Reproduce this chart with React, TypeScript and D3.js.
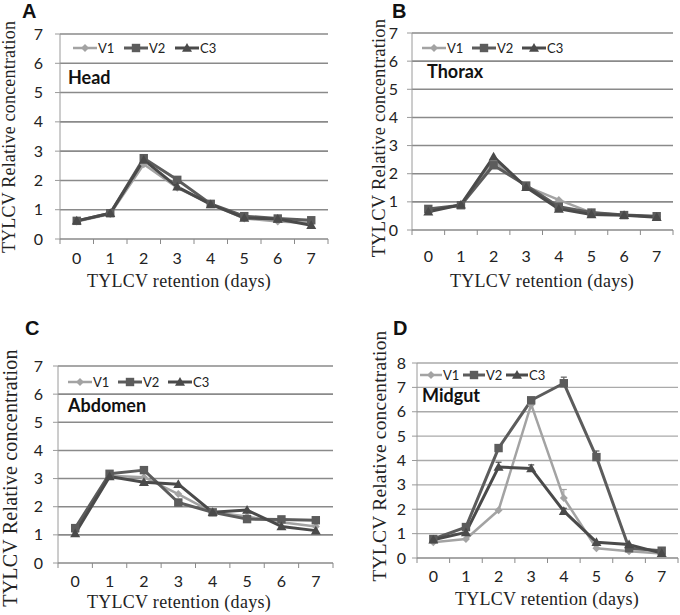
import React from "react";
import * as d3 from "d3";

const days = ["0", "1", "2", "3", "4", "5", "6", "7"];
const seriesNames = ["V1", "V2", "C3"];

const headV1 = [0.6, 0.85, 2.55, 1.75, 1.2, 0.7, 0.6, 0.55];
const headV2 = [0.62, 0.88, 2.76, 2.02, 1.2, 0.78, 0.7, 0.64];
const headC3 = [0.62, 0.88, 2.7, 1.78, 1.18, 0.72, 0.68, 0.47];

const thoraxV1 = [0.7, 0.88, 2.45, 1.55, 1.07, 0.62, 0.52, 0.48];
const thoraxV2 = [0.75, 0.88, 2.3, 1.58, 0.83, 0.62, 0.53, 0.49];
const thoraxC3 = [0.65, 0.9, 2.6, 1.52, 0.75, 0.55, 0.52, 0.45];

const abdomenV1 = [1.1, 3.1, 3.05, 2.45, 1.8, 1.65, 1.45, 1.3];
const abdomenV2 = [1.24, 3.17, 3.3, 2.15, 1.8, 1.56, 1.55, 1.52];
const abdomenC3 = [1.05, 3.07, 2.87, 2.8, 1.8, 1.88, 1.3, 1.15];

const midgutV1 = [0.65, 0.78, 1.96, 6.3, 2.46, 0.4, 0.28, 0.18];
const midgutV2 = [0.78, 1.27, 4.51, 6.47, 7.17, 4.14, 0.4, 0.3];
const midgutC3 = [0.75, 1.05, 3.73, 3.67, 1.92, 0.65, 0.55, 0.2];
const midgutErrV1 = [0, 0, 0, 0, 0.35, 0, 0, 0];
const midgutErrV2 = [0, 0, 0.1, 0.05, 0.25, 0.25, 0, 0];
const midgutErrC3 = [0, 0, 0.2, 0.15, 0.12, 0, 0, 0];

const panelLetters = ["A", "B", "C", "D"];
const panelTitles = ["Head", "Thorax", "Abdomen", "Midgut"];
const yMaxes = [7, 7, 7, 8];
const xTitle = "TYLCV retention (days)";
const yTitle = "TYLCV Relative concentration";

const colors: Record<string, string> = { V1: "#a3a3a3", V2: "#5c5c5c", C3: "#4a4a4a" };

type Layout = {
  left: number; right: number; top: number; bottom: number;
  letterX: number; letterY: number;
  titleX: number; titleY: number;
  legX: number; legY: number; legStep: number; legLine: number;
  xLabY: number; xTitleX: number; xTitleY: number;
  yTitleX: number; yTitleY: number; yTitleSize: number;
  yLabGap: number;
  grid: string; gridW: number;
};

const layouts: Layout[] = [
  { left: 60, right: 328, top: 34, bottom: 239, letterX: 22, letterY: 18, titleX: 68, titleY: 84,
    legX: 73, legY: 48, legStep: 51, legLine: 24, xLabY: 264, xTitleX: 179, xTitleY: 287,
    yTitleX: 15, yTitleY: 137, yTitleSize: 18, yLabGap: 17, grid: "#8a8a8a", gridW: 1.6 },
  { left: 412, right: 673, top: 33, bottom: 230, letterX: 392, letterY: 18, titleX: 427, titleY: 78,
    legX: 422, legY: 48, legStep: 50, legLine: 24, xLabY: 262, xTitleX: 542, xTitleY: 287,
    yTitleX: 385, yTitleY: 138, yTitleSize: 18.5, yLabGap: 14, grid: "#8a8a8a", gridW: 1.6 },
  { left: 58, right: 333, top: 366, bottom: 563, letterX: 25, letterY: 335, titleX: 68, titleY: 412,
    legX: 68, legY: 382, legStep: 50, legLine: 24, xLabY: 587, xTitleX: 179, xTitleY: 608,
    yTitleX: 17, yTitleY: 478, yTitleSize: 20, yLabGap: 15, grid: "#8a8a8a", gridW: 1.6 },
  { left: 417, right: 678, top: 363, bottom: 558, letterX: 393, letterY: 335, titleX: 422, titleY: 402,
    legX: 420, legY: 375, legStep: 43, legLine: 22, xLabY: 582, xTitleX: 547, xTitleY: 605,
    yTitleX: 386, yTitleY: 456, yTitleSize: 19.5, yLabGap: 11, grid: "#aaaaaa", gridW: 1.3 },
];

const panelData = [
  [headV1, headV2, headC3],
  [thoraxV1, thoraxV2, thoraxC3],
  [abdomenV1, abdomenV2, abdomenC3],
  [midgutV1, midgutV2, midgutC3],
];
const panelErrs: (number[][] | null)[] = [null, null, null, [midgutErrV1, midgutErrV2, midgutErrC3]];

function Marker({ name, x, y }: { name: string; x: number; y: number }) {
  const c = colors[name];
  if (name === "V1") {
    const s = 4;
    return <path d={`M${x},${y - s}L${x + s},${y}L${x},${y + s}L${x - s},${y}Z`} fill={c} />;
  }
  if (name === "V2") {
    const s = 4.2;
    return <rect x={x - s} y={y - s} width={2 * s} height={2 * s} fill={c} />;
  }
  const s = 5;
  return <path d={`M${x},${y - s}L${x + s},${y + s * 0.75}L${x - s},${y + s * 0.75}Z`} fill={c} />;
}

function Panel({ idx }: { idx: number }) {
  const L = layouts[idx];
  const x = d3.scaleBand<string>().domain(days).range([L.left, L.right]).padding(0);
  const y = d3.scaleLinear().domain([0, yMaxes[idx]]).range([L.bottom, L.top]);
  const ticks = d3.range(0, yMaxes[idx] + 1);
  const line = d3.line<number>().x((_, i) => (x(days[i]) as number) + x.bandwidth() / 2).y((d) => y(d));
  const data = panelData[idx];
  const errs = panelErrs[idx];
  const cx = (i: number) => (x(days[i]) as number) + x.bandwidth() / 2;
  const boundaries = d3.range(0, days.length + 1).map((i) => L.left + i * x.bandwidth());
  return (
    <g>
      {ticks.filter((t) => t > 0).map((t) => (
        <line key={"g" + t} x1={L.left} x2={L.right} y1={y(t)} y2={y(t)} stroke={L.grid} strokeWidth={L.gridW} />
      ))}
      <line x1={L.left} x2={L.left} y1={L.top} y2={L.bottom} stroke="#9a9a9a" strokeWidth={1} />
      {ticks.map((t) => (
        <g key={"yt" + t}>
          <line x1={L.left - 5} x2={L.left} y1={y(t)} y2={y(t)} stroke="#9a9a9a" />
          <text x={L.left - L.yLabGap} y={y(t) + 5.5} textAnchor="end" fontFamily="Lato" fontSize={16} fill="#222">{t}</text>
        </g>
      ))}
      <line x1={L.left} x2={L.right} y1={L.bottom} y2={L.bottom} stroke="#8a8a8a" strokeWidth={1.3} />
      {boundaries.map((b, i) => (
        <line key={"xt" + i} x1={b} x2={b} y1={L.bottom} y2={L.bottom + 5} stroke="#8a8a8a" />
      ))}
      {days.map((d, i) => (
        <text key={"xl" + d} x={cx(i)} y={L.xLabY} textAnchor="middle" fontFamily="Lato" fontSize={16} fill="#222">{d}</text>
      ))}
      {data.map((vals, si) => (
        <path key={"l" + si} d={line(vals) || ""} fill="none" stroke={colors[seriesNames[si]]} strokeWidth={si === 0 ? 2.5 : 3} strokeLinejoin="round" />
      ))}
      {errs && errs.map((ev, si) =>
        ev.map((e, i) =>
          e > 0 ? (
            <g key={"e" + si + "_" + i} stroke={colors[seriesNames[si]]} strokeWidth={1.2}>
              <line x1={cx(i)} x2={cx(i)} y1={y(data[si][i])} y2={y(data[si][i] + e)} />
              <line x1={cx(i) - 3} x2={cx(i) + 3} y1={y(data[si][i] + e)} y2={y(data[si][i] + e)} />
            </g>
          ) : null
        )
      )}
      {data.map((vals, si) =>
        vals.map((v, i) => <Marker key={"m" + si + "_" + i} name={seriesNames[si]} x={cx(i)} y={y(v)} />)
      )}
      {seriesNames.map((n, si) => {
        const lx = L.legX + si * L.legStep;
        return (
          <g key={"lg" + n}>
            <line x1={lx} x2={lx + L.legLine} y1={L.legY} y2={L.legY} stroke={colors[n]} strokeWidth={si === 0 ? 2.5 : 3} />
            <Marker name={n} x={lx + L.legLine / 2} y={L.legY} />
            <text x={lx + L.legLine + 1} y={L.legY + 4.5} fontFamily="Lato" fontSize={13} fill="#222">{n}</text>
          </g>
        );
      })}
      <text x={L.titleX} y={L.titleY} fontFamily="Lato" fontWeight="bold" fontSize={18} fill="#111">{panelTitles[idx]}</text>
      <text x={L.letterX} y={L.letterY} fontFamily="Liberation Sans" fontWeight="bold" fontSize={20} fill="#111">{panelLetters[idx]}</text>
      <text x={L.xTitleX} y={L.xTitleY} textAnchor="middle" fontFamily="Liberation Serif" fontSize={18} letterSpacing={0.3} fill="#222">{xTitle}</text>
      <text transform={`translate(${L.yTitleX},${L.yTitleY}) rotate(-90)`} textAnchor="middle" fontFamily="Liberation Serif" fontSize={L.yTitleSize} letterSpacing={0.2} fill="#222">{yTitle}</text>
    </g>
  );
}

export default function App() {
  return (
    <svg width={680} height={615} style={{ position: "absolute", left: 0, top: 0, background: "#fff" }}>
      <rect width={680} height={615} fill="#fff" />
      {[0, 1, 2, 3].map((i) => <Panel key={i} idx={i} />)}
    </svg>
  );
}
